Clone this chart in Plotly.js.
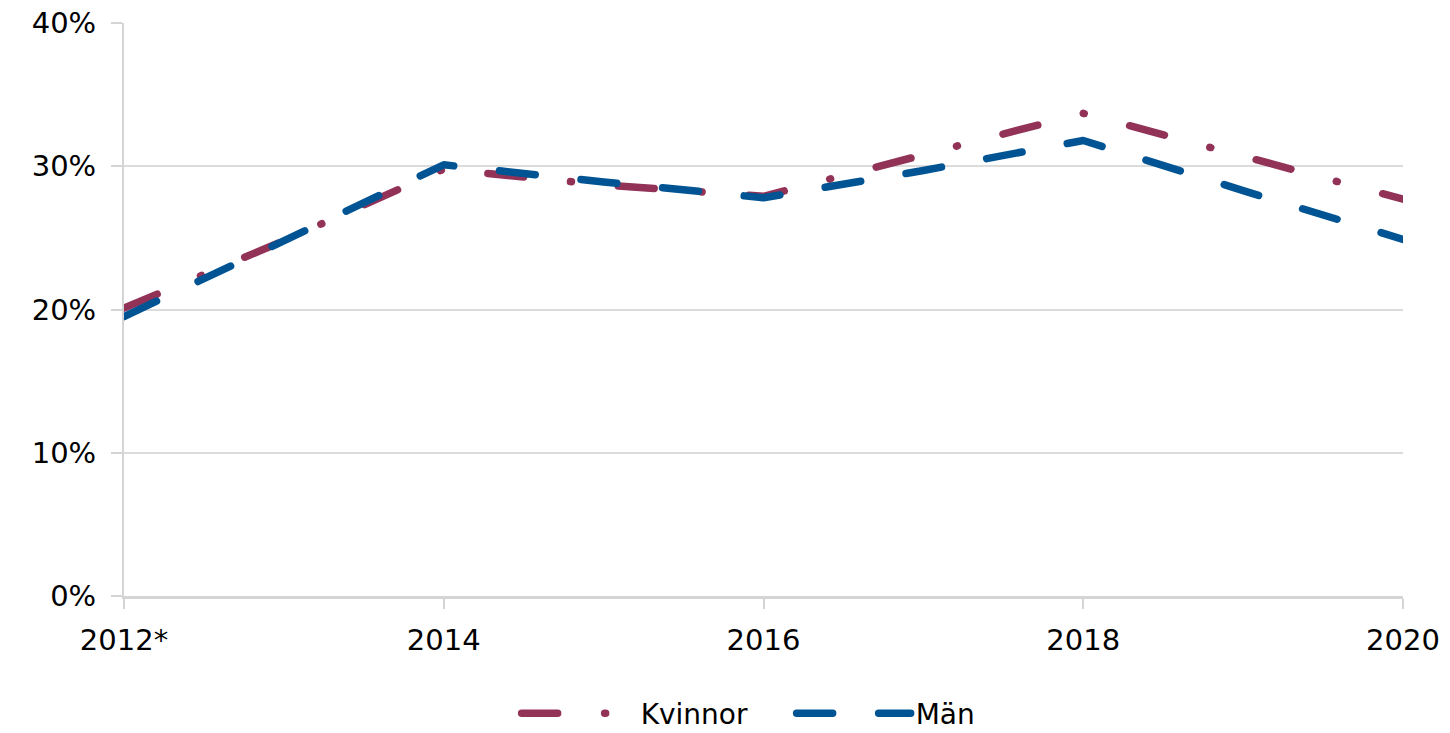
<!DOCTYPE html>
<html>
<head>
<meta charset="utf-8">
<script src="https://cdn.plot.ly/plotly-3.0.1.min.js"></script>
<style>
  html, body { margin: 0; padding: 0; background: #fff; }
  #chart { width: 1450px; height: 733px; }
  .scatterlayer .js-line, .legendlines path { stroke-linecap: round; stroke-linejoin: round; }
</style>
</head>
<body>
<div id="chart"></div>
<script>
// Data
const years = [2012, 2013, 2014, 2015, 2016, 2017, 2018, 2019, 2020];
const kvinnor = [20.1, 24.8, 29.8, 28.7, 27.9, 30.8, 33.7, 30.7, 27.7];
const man = [19.5, 24.8, 30.1, 28.9, 27.8, 29.7, 31.8, 28.3, 24.9];
const tickYears = [2012, 2014, 2016, 2018, 2020];
const tickLabels = ["2012*", "2014", "2016", "2018", "2020"];
const yTicks = [0, 10, 20, 30, 40];
const yTickLabels = ["0%", "10%", "20%", "30%", "40%"];
const seriesNames = ["Kvinnor", "Män"];

const FONT = "DejaVu Sans, Liberation Sans, Arial, sans-serif";
const MAROON = "#933257";
const BLUE = "#005493";

const traces = [
  {
    x: years, y: kvinnor, name: seriesNames[0], type: "scatter", mode: "lines",
    line: { color: MAROON, width: 7.5, dash: "36px,47px,1px,47px" },
    hoverinfo: "skip"
  },
  {
    x: years, y: man, name: seriesNames[1], type: "scatter", mode: "lines",
    line: { color: BLUE, width: 7.5, dash: "36px,46px" },
    hoverinfo: "skip"
  }
];

const layout = {
  width: 1450, height: 733,
  margin: { l: 124, r: 47, t: 23, b: 137, autoexpand: false },
  paper_bgcolor: "#fff", plot_bgcolor: "#fff",
  font: { family: FONT, size: 29, color: "#000" },
  showlegend: true,
  legend: {
    orientation: "h", x: 0.522, xanchor: "center", y: -0.205, yanchor: "middle",
    font: { family: FONT, size: 28, color: "#000" },
    itemwidth: 114, entrywidth: 146, entrywidthmode: "pixels", traceorder: "normal"
  },
  xaxis: {
    type: "linear", range: [2012, 2020], automargin: false,
    tickmode: "array", tickvals: tickYears, ticktext: tickLabels,
    showgrid: false, zeroline: false,
    showline: true, linecolor: "#d4d4d4", linewidth: 3,
    ticks: "outside", ticklen: 10, tickwidth: 2, tickcolor: "#d4d4d4",
    ticklabelstandoff: 6,
    tickfont: { family: FONT, size: 29, color: "#000" },
    fixedrange: true
  },
  yaxis: {
    range: [0, 40], automargin: false,
    tickmode: "array", tickvals: yTicks, ticktext: yTickLabels,
    showgrid: true, gridcolor: "#dcdcdc", gridwidth: 2,
    zeroline: false,
    showline: true, linecolor: "#d4d4d4", linewidth: 2,
    ticks: "outside", ticklen: 11, tickwidth: 2, tickcolor: "#d4d4d4",
    ticklabelstandoff: 9,
    tickfont: { family: FONT, size: 29, color: "#000" },
    fixedrange: true
  }
};

Plotly.newPlot("chart", traces, layout, { staticPlot: true, displayModeBar: false });
</script>
</body>
</html>
